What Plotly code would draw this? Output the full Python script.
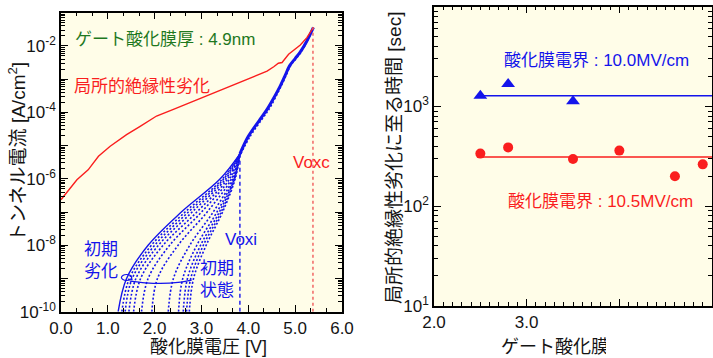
import plotly.graph_objects as go

# ---------------- left panel: J-V curves ----------------
red_v = [0.00, 0.15, 0.34, 0.58, 0.80, 1.05, 1.40, 1.69, 2.04, 2.40, 2.83, 3.25, 3.68,
         4.04, 4.40, 4.55, 4.64, 4.72, 4.86, 5.11, 5.25, 5.39]
red_logj = [-6.63, -6.35, -6.03, -5.73, -5.32, -5.02, -4.67, -4.42, -4.11, -3.91, -3.66,
            -3.44, -3.18, -2.97, -2.76, -2.62, -2.52, -2.50, -2.25, -1.97, -1.75, -1.44]

bundle_v = [3.82, 4.00, 4.25, 4.40, 4.55, 4.68, 4.78, 4.88, 5.00, 5.11, 5.25, 5.39]
bundle2_v = [3.84, 4.04, 4.29, 4.44, 4.58, 4.70, 4.80, 4.90, 5.02, 5.13, 5.26, 5.39]
bundle_logj = [-5.25, -4.72, -4.21, -3.91, -3.55, -3.21, -2.91, -2.60, -2.38, -2.18, -1.85, -1.44]

fan_logj = [-10.0, -9.0, -8.0, -7.0, -6.0, -5.25]
fan_solid_v = [1.22, 1.40, 1.86, 2.57, 3.40, 3.82]
fan_dotted_v = [
    [1.30, 1.46, 1.93, 2.65, 3.45, 3.82],
    [1.37, 1.52, 2.00, 2.72, 3.48, 3.82],
    [1.45, 1.60, 2.08, 2.80, 3.52, 3.82],
    [1.55, 1.70, 2.18, 2.90, 3.56, 3.82],
    [1.72, 1.86, 2.32, 3.00, 3.60, 3.82],
    [1.94, 2.06, 2.50, 3.12, 3.64, 3.82],
    [2.29, 2.40, 2.75, 3.25, 3.67, 3.82],
    [2.51, 2.60, 2.90, 3.33, 3.69, 3.82],
    [2.61, 2.70, 2.98, 3.38, 3.70, 3.82],
    [2.68, 2.77, 3.04, 3.42, 3.71, 3.82],
    [2.74, 2.83, 3.10, 3.45, 3.72, 3.82],
]

ell_v = [1.51, 1.48, 1.40, 1.32, 1.29, 1.32, 1.40, 1.48, 1.51]
ell_logj = [-8.97, -8.91, -8.88, -8.91, -8.97, -9.03, -9.06, -9.03, -8.97]
sweep_v = [1.47, 1.80, 2.12, 2.50, 2.79]
sweep_logj = [-9.08, -9.13, -9.15, -9.12, -9.05]

voxc = 5.38
voxc_top_logj = -1.44
voxi = 3.82
voxi_top_logj = -5.25
ymin_logj = -10.0

left_ytick_exp = [-10, -9, -8, -7, -6, -5, -4, -3, -2, -1]
left_xtick = [0, 1, 2, 3, 4, 5, 6]

# ---------------- right panel: time to local breakdown ----------------
blue_tox = [2.5, 2.8, 3.5]
blue_time = [1280, 1675, 1130]
blue_fit = 1280
red_tox = [2.5, 2.8, 3.5, 4.0, 4.6, 4.9]
red_time = [337, 389, 298, 361, 200, 263]
red_fit = 312
fit_x = [2.52, 5.0]

right_ytick_exp = [1, 2, 3, 4]
right_xtick = [2, 3, 4, 5]

BLUE = "rgb(20,20,235)"
RED = "rgb(250,30,30)"
GREEN = "rgb(30,120,30)"
BG = "rgb(255,253,232)"
TXT = "rgb(20,20,20)"
FONT = "Liberation Sans, Arial, Noto Sans CJK JP, sans-serif"


def p(lst):
    return [10 ** v for v in lst]


fig = go.Figure()

for cv in fan_dotted_v:
    fig.add_trace(go.Scatter(x=cv, y=p(fan_logj), mode="lines",
                             line=dict(color=BLUE, width=1.6, dash="2px,2px", shape="spline"),
                             xaxis="x", yaxis="y", showlegend=False, hoverinfo="skip"))
fig.add_trace(go.Scatter(x=fan_solid_v, y=p(fan_logj), mode="lines", line=dict(color=BLUE, width=1.4, shape="spline"),
                         xaxis="x", yaxis="y", showlegend=False))
fig.add_trace(go.Scatter(x=bundle2_v, y=p(bundle_logj), mode="lines",
                         line=dict(color=BLUE, width=1.6, dash="2px,2px", shape="spline"),
                         xaxis="x", yaxis="y", showlegend=False))
fig.add_trace(go.Scatter(x=bundle_v, y=p(bundle_logj), mode="lines", line=dict(color=BLUE, width=3.0, shape="spline"),
                         xaxis="x", yaxis="y", showlegend=False))
fig.add_trace(go.Scatter(x=red_v, y=p(red_logj), mode="lines", line=dict(color=RED, width=1.4),
                         xaxis="x", yaxis="y", showlegend=False))
fig.add_trace(go.Scatter(x=[voxc, voxc], y=p([ymin_logj, voxc_top_logj]), mode="lines",
                         line=dict(color="rgb(240,90,90)", width=1.4, dash="3px,3px"),
                         xaxis="x", yaxis="y", showlegend=False))
fig.add_trace(go.Scatter(x=[voxi, voxi], y=p([ymin_logj, voxi_top_logj]), mode="lines",
                         line=dict(color=BLUE, width=1.4, dash="4px,3px"),
                         xaxis="x", yaxis="y", showlegend=False))
fig.add_trace(go.Scatter(x=ell_v, y=p(ell_logj), mode="lines", line=dict(color=BLUE, width=1.2, shape="spline"),
                         xaxis="x", yaxis="y", showlegend=False))
fig.add_trace(go.Scatter(x=sweep_v, y=p(sweep_logj), mode="lines", line=dict(color=BLUE, width=1.2, shape="spline"),
                         xaxis="x", yaxis="y", showlegend=False))

fig.add_trace(go.Scatter(x=fit_x, y=[blue_fit, blue_fit], mode="lines", line=dict(color=BLUE, width=1.4),
                         xaxis="x2", yaxis="y2", showlegend=False))
fig.add_trace(go.Scatter(x=fit_x, y=[red_fit, red_fit], mode="lines", line=dict(color=RED, width=1.4),
                         xaxis="x2", yaxis="y2", showlegend=False))
fig.add_trace(go.Scatter(x=blue_tox, y=blue_time, mode="markers", marker=dict(symbol="triangle-up", size=12, color=BLUE),
                         xaxis="x2", yaxis="y2", showlegend=False, cliponaxis=False))
fig.add_trace(go.Scatter(x=red_tox, y=red_time, mode="markers", marker=dict(symbol="circle", size=10, color=RED),
                         xaxis="x2", yaxis="y2", showlegend=False, cliponaxis=False))

W, H = 713, 358


def px_x(v):
    return v / W


def px_y(v):
    return 1 - v / H


axis_common = dict(showline=True, linecolor="black", linewidth=1.5, mirror="allticks", ticks="inside",
                   tickcolor="black", ticklen=7, tickwidth=1.3, showgrid=False, zeroline=False,
                   automargin=False,
                   tickfont=dict(family=FONT, size=17, color=TXT))

fig.update_layout(
    template="none",
    width=W, height=H, margin=dict(l=0, r=0, t=0, b=0, pad=0),
    paper_bgcolor="white", plot_bgcolor=BG,
    font=dict(family=FONT),
    xaxis=dict(domain=[px_x(61), px_x(342)], range=[0, 6], anchor="y",
               tickvals=left_xtick, ticktext=[f"{v:.1f}" for v in left_xtick],
               minor=dict(ticks="inside", dtick=1 / 3, ticklen=4, tickcolor="black", tickwidth=1),
               **axis_common),
    yaxis=dict(domain=[px_y(311.7), px_y(12.7)], type="log", range=[-10, -1], anchor="x",
               tickvals=[10 ** e for e in left_ytick_exp],
               ticktext=[f"10<sup>{e}</sup>" if e % 2 == 0 else "" for e in left_ytick_exp],
               minor=dict(ticks="inside", dtick="D1", ticklen=4, tickcolor="black", tickwidth=1),
               **axis_common),
    xaxis2=dict(domain=[px_x(434), px_x(712)], range=[2, 5], anchor="y2",
                tickvals=right_xtick, ticktext=[f"{v:.1f}" for v in right_xtick],
                minor=dict(ticks="inside", dtick=0.1, ticklen=4, tickcolor="black", tickwidth=1),
                **axis_common),
    yaxis2=dict(domain=[px_y(306), px_y(6.7)], type="log", range=[1, 4], anchor="x2",
                tickvals=[10 ** e for e in right_ytick_exp],
                ticktext=[f"10<sup>{e}</sup>" for e in right_ytick_exp],
                minor=dict(ticks="inside", dtick="D1", ticklen=4, tickcolor="black", tickwidth=1),
                **axis_common),
)


def note(x, y, text, color, size=17, xref="x", yref="y", xanchor="center", angle=0):
    return dict(x=x, y=y, xref=xref, yref=yref, text=text, showarrow=False, xanchor=xanchor,
                yanchor="middle", textangle=angle, font=dict(size=size, color=color, family=FONT))


ann = [
    note(0.26, -1.80, "ゲート酸化膜厚 : 4.9nm", GREEN, xanchor="left"),
    note(0.23, -3.22, "局所的絶縁性劣化", RED, xanchor="left"),
    note(5.35, -5.52, "Voxc", RED),
    note(3.84, -7.84, "Voxi", BLUE),
    note(0.85, -8.47, "初期<br>劣化", BLUE),
    note(3.33, -9.02, "初期<br>状態", BLUE),
    note(3.75, 3.457, "酸化膜電界 : 10.0MV/cm", BLUE, xref="x2", yref="y2"),
    note(3.80, 2.05, "酸化膜電界 : 10.5MV/cm", RED, xref="x2", yref="y2"),
    note(px_x(17), px_y(152), "トンネル電流 [A/cm<sup>2</sup>]", TXT, size=19, xref="paper", yref="paper", angle=-90),
    note(px_x(208), px_y(347), "酸化膜電圧 [V]", TXT, size=18, xref="paper", yref="paper"),
    note(px_x(395), px_y(158), "局所的絶縁性劣化に至る時間 [sec]", TXT, size=19, xref="paper", yref="paper", angle=-90),
    note(px_x(499), px_y(347), "ゲート酸化膜厚 [nm]", TXT, size=18, xref="paper", yref="paper", xanchor="left"),
]
# white patch: the reference image is cropped at its lower right corner
ann.append(dict(x=px_x(606), y=px_y(311), xref="paper", yref="paper", text="", showarrow=False,
                xanchor="left", yanchor="top", width=120, height=50, bgcolor="white", borderpad=0,
                borderwidth=0))
fig.update_layout(annotations=ann)

fig.add_shape(type="rect", xref="paper", yref="paper", x0=px_x(606), x1=1.0, y0=0, y1=px_y(311),
              fillcolor="white", line=dict(width=0), layer="above")

fig.write_html("out.html")
